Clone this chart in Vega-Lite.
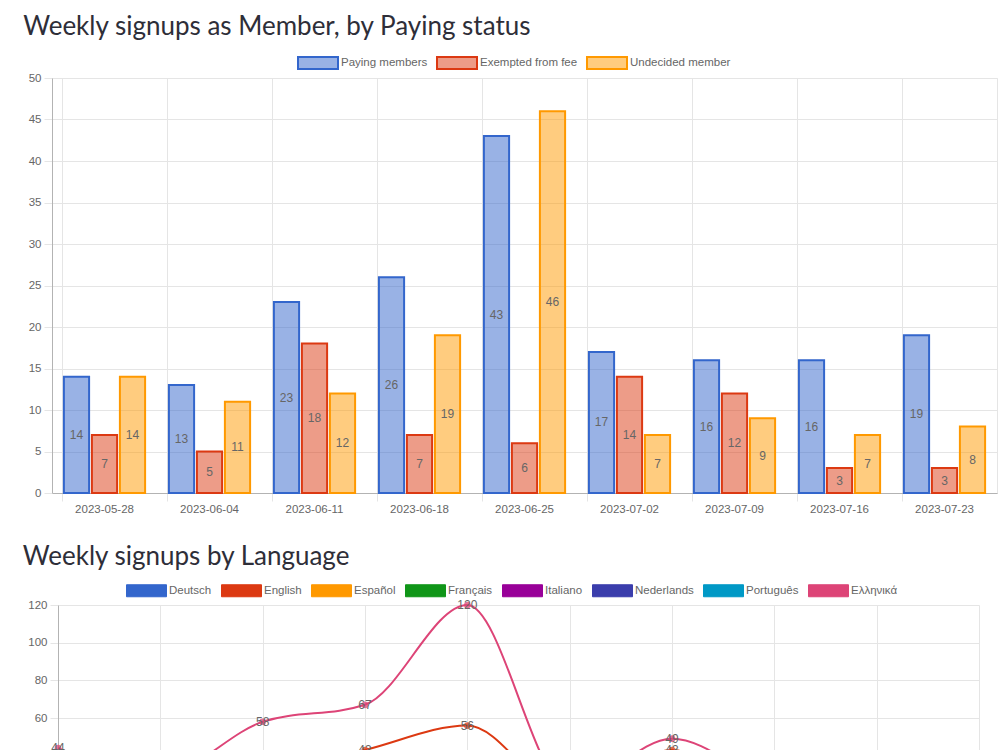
{
  "$schema": "https://vega.github.io/schema/vega-lite/v6.json",
  "padding": {"left": 22, "top": 13, "right": 0, "bottom": 0},
  "background": "white",
  "config": {
    "view": {"stroke": null},
    "axis": {"labelFont": "Liberation Sans", "labelFontSize": 11.5, "labelColor": "#666666", "gridColor": "#e5e5e5", "tickColor": "#e5e5e5", "domainColor": "#b3b3b3", "tickSize": 8, "titleFontSize": 0, "labelAngle": 0},
    "legend": {"labelFont": "Liberation Sans", "labelFontSize": 11.5, "labelColor": "#666666"},
    "title": {"font": "Lato", "fontSize": 26, "fontWeight": "normal", "color": "#2e2e38", "anchor": "start"}
  },
  "datasets": {
    "members": [
      {"week": "2023-05-28", "status": "Paying members", "count": 14},
      {"week": "2023-05-28", "status": "Exempted from fee", "count": 7},
      {"week": "2023-05-28", "status": "Undecided member", "count": 14},
      {"week": "2023-06-04", "status": "Paying members", "count": 13},
      {"week": "2023-06-04", "status": "Exempted from fee", "count": 5},
      {"week": "2023-06-04", "status": "Undecided member", "count": 11},
      {"week": "2023-06-11", "status": "Paying members", "count": 23},
      {"week": "2023-06-11", "status": "Exempted from fee", "count": 18},
      {"week": "2023-06-11", "status": "Undecided member", "count": 12},
      {"week": "2023-06-18", "status": "Paying members", "count": 26},
      {"week": "2023-06-18", "status": "Exempted from fee", "count": 7},
      {"week": "2023-06-18", "status": "Undecided member", "count": 19},
      {"week": "2023-06-25", "status": "Paying members", "count": 43},
      {"week": "2023-06-25", "status": "Exempted from fee", "count": 6},
      {"week": "2023-06-25", "status": "Undecided member", "count": 46},
      {"week": "2023-07-02", "status": "Paying members", "count": 17},
      {"week": "2023-07-02", "status": "Exempted from fee", "count": 14},
      {"week": "2023-07-02", "status": "Undecided member", "count": 7},
      {"week": "2023-07-09", "status": "Paying members", "count": 16},
      {"week": "2023-07-09", "status": "Exempted from fee", "count": 12},
      {"week": "2023-07-09", "status": "Undecided member", "count": 9},
      {"week": "2023-07-16", "status": "Paying members", "count": 16},
      {"week": "2023-07-16", "status": "Exempted from fee", "count": 3},
      {"week": "2023-07-16", "status": "Undecided member", "count": 7},
      {"week": "2023-07-23", "status": "Paying members", "count": 19},
      {"week": "2023-07-23", "status": "Exempted from fee", "count": 3},
      {"week": "2023-07-23", "status": "Undecided member", "count": 8}
    ],
    "languages": [
      {"week": "2023-05-28", "lang": "Deutsch", "n": 10}, {"week": "2023-06-04", "lang": "Deutsch", "n": 8}, {"week": "2023-06-11", "lang": "Deutsch", "n": 12}, {"week": "2023-06-18", "lang": "Deutsch", "n": 15}, {"week": "2023-06-25", "lang": "Deutsch", "n": 25}, {"week": "2023-07-02", "lang": "Deutsch", "n": 9}, {"week": "2023-07-09", "lang": "Deutsch", "n": 14}, {"week": "2023-07-16", "lang": "Deutsch", "n": 8}, {"week": "2023-07-23", "lang": "Deutsch", "n": 6}, {"week": "2023-07-30", "lang": "Deutsch", "n": 7},
      {"week": "2023-05-28", "lang": "English", "n": 20}, {"week": "2023-06-04", "lang": "English", "n": 15}, {"week": "2023-06-11", "lang": "English", "n": 30}, {"week": "2023-06-18", "lang": "English", "n": 43}, {"week": "2023-06-25", "lang": "English", "n": 56}, {"week": "2023-07-02", "lang": "English", "n": 18}, {"week": "2023-07-09", "lang": "English", "n": 43}, {"week": "2023-07-16", "lang": "English", "n": 14}, {"week": "2023-07-23", "lang": "English", "n": 10}, {"week": "2023-07-30", "lang": "English", "n": 12},
      {"week": "2023-05-28", "lang": "Español", "n": 8}, {"week": "2023-06-04", "lang": "Español", "n": 6}, {"week": "2023-06-11", "lang": "Español", "n": 10}, {"week": "2023-06-18", "lang": "Español", "n": 12}, {"week": "2023-06-25", "lang": "Español", "n": 20}, {"week": "2023-07-02", "lang": "Español", "n": 7}, {"week": "2023-07-09", "lang": "Español", "n": 11}, {"week": "2023-07-16", "lang": "Español", "n": 6}, {"week": "2023-07-23", "lang": "Español", "n": 5}, {"week": "2023-07-30", "lang": "Español", "n": 6},
      {"week": "2023-05-28", "lang": "Français", "n": 12}, {"week": "2023-06-04", "lang": "Français", "n": 9}, {"week": "2023-06-11", "lang": "Français", "n": 14}, {"week": "2023-06-18", "lang": "Français", "n": 18}, {"week": "2023-06-25", "lang": "Français", "n": 30}, {"week": "2023-07-02", "lang": "Français", "n": 10}, {"week": "2023-07-09", "lang": "Français", "n": 16}, {"week": "2023-07-16", "lang": "Français", "n": 9}, {"week": "2023-07-23", "lang": "Français", "n": 7}, {"week": "2023-07-30", "lang": "Français", "n": 8},
      {"week": "2023-05-28", "lang": "Italiano", "n": 5}, {"week": "2023-06-04", "lang": "Italiano", "n": 4}, {"week": "2023-06-11", "lang": "Italiano", "n": 6}, {"week": "2023-06-18", "lang": "Italiano", "n": 8}, {"week": "2023-06-25", "lang": "Italiano", "n": 12}, {"week": "2023-07-02", "lang": "Italiano", "n": 4}, {"week": "2023-07-09", "lang": "Italiano", "n": 7}, {"week": "2023-07-16", "lang": "Italiano", "n": 4}, {"week": "2023-07-23", "lang": "Italiano", "n": 3}, {"week": "2023-07-30", "lang": "Italiano", "n": 3},
      {"week": "2023-05-28", "lang": "Nederlands", "n": 3}, {"week": "2023-06-04", "lang": "Nederlands", "n": 2}, {"week": "2023-06-11", "lang": "Nederlands", "n": 4}, {"week": "2023-06-18", "lang": "Nederlands", "n": 5}, {"week": "2023-06-25", "lang": "Nederlands", "n": 8}, {"week": "2023-07-02", "lang": "Nederlands", "n": 3}, {"week": "2023-07-09", "lang": "Nederlands", "n": 4}, {"week": "2023-07-16", "lang": "Nederlands", "n": 2}, {"week": "2023-07-23", "lang": "Nederlands", "n": 2}, {"week": "2023-07-30", "lang": "Nederlands", "n": 2},
      {"week": "2023-05-28", "lang": "Português", "n": 4}, {"week": "2023-06-04", "lang": "Português", "n": 3}, {"week": "2023-06-11", "lang": "Português", "n": 5}, {"week": "2023-06-18", "lang": "Português", "n": 6}, {"week": "2023-06-25", "lang": "Português", "n": 10}, {"week": "2023-07-02", "lang": "Português", "n": 3}, {"week": "2023-07-09", "lang": "Português", "n": 6}, {"week": "2023-07-16", "lang": "Português", "n": 3}, {"week": "2023-07-23", "lang": "Português", "n": 2}, {"week": "2023-07-30", "lang": "Português", "n": 3},
      {"week": "2023-05-28", "lang": "Ελληνικά", "n": 44}, {"week": "2023-06-04", "lang": "Ελληνικά", "n": 30}, {"week": "2023-06-11", "lang": "Ελληνικά", "n": 58}, {"week": "2023-06-18", "lang": "Ελληνικά", "n": 67}, {"week": "2023-06-25", "lang": "Ελληνικά", "n": 120}, {"week": "2023-07-02", "lang": "Ελληνικά", "n": 22}, {"week": "2023-07-09", "lang": "Ελληνικά", "n": 49}, {"week": "2023-07-16", "lang": "Ελληνικά", "n": 25}, {"week": "2023-07-23", "lang": "Ελληνικά", "n": 18}, {"week": "2023-07-30", "lang": "Ελληνικά", "n": 20}
    ]
  },
  "vconcat": [
    {
      "title": {"text": "Weekly signups as Member, by Paying status", "offset": 2, "dx": -5},
      "width": 945,
      "height": 415,
      "view": {"stroke": "#e5e5e5"},
      "data": {"name": "members"},
      "layer": [
        {
          "mark": {"type": "bar", "strokeWidth": 2},
          "encoding": {
            "x": {"field": "week", "type": "ordinal", "scale": {"paddingInner": 0.2, "paddingOuter": 0.1}, "axis": {"grid": true, "bandPosition": 0, "labels": false, "ticks": true, "title": null, "orient": "bottom"}},
            "xOffset": {"field": "status", "type": "nominal", "scale": {"domain": ["Paying members", "Exempted from fee", "Undecided member"], "paddingInner": 0.1, "paddingOuter": 0.05}},
            "y": {"field": "count", "type": "quantitative", "scale": {"domain": [0, 50], "nice": false}, "axis": {"values": [0, 5, 10, 15, 20, 25, 30, 35, 40, 45, 50], "title": null, "labelPadding": 3}},
            "fill": {"field": "status", "type": "nominal", "scale": {"domain": ["Paying members", "Exempted from fee", "Undecided member"], "range": ["rgba(51,102,204,0.5)", "rgba(220,57,18,0.5)", "rgba(255,153,0,0.5)"]}, "legend": {"title": null, "orient": "none", "direction": "horizontal", "legendX": 245, "legendY": -36, "symbolType": "M-1,-0.3H1V0.3H-1Z", "symbolSize": 1600, "symbolStrokeWidth": 2, "labelOffset": 2, "columnPadding": 5}},
            "stroke": {"field": "status", "type": "nominal", "scale": {"domain": ["Paying members", "Exempted from fee", "Undecided member"], "range": ["#3366cc", "#dc3912", "#ff9900"]}, "legend": {"title": null, "orient": "none", "direction": "horizontal", "legendX": 245, "legendY": -36, "symbolType": "M-1,-0.3H1V0.3H-1Z", "symbolSize": 1600, "symbolStrokeWidth": 2, "labelOffset": 2, "columnPadding": 5}}
          }
        },
        {
          "mark": {"type": "text", "color": "#666666", "font": "Liberation Sans", "fontSize": 12, "baseline": "middle"},
          "encoding": {
            "x": {"field": "week", "type": "ordinal", "axis": {"grid": false, "ticks": false, "domain": false, "title": null, "orient": "bottom", "labelPadding": 10}},
            "xOffset": {"field": "status", "type": "nominal"},
            "y": {"field": "count", "type": "quantitative", "scale": {"domain": [0, 100], "nice": false}, "axis": null},
            "text": {"field": "count", "type": "quantitative"}
          }
        }
      ],
      "resolve": {"scale": {"y": "independent"}, "axis": {"x": "independent"}}
    },
    {
      "title": {"text": "Weekly signups by Language", "offset": 0, "dx": -5},
      "width": 927,
      "height": 226,
      "data": {"name": "languages"},
      "encoding": {
        "x": {"field": "week", "type": "ordinal", "scale": {"type": "point", "range": [6, 927], "padding": 0}, "axis": {"grid": true, "title": null, "domain": false}},
        "y": {"field": "n", "type": "quantitative", "scale": {"domain": [0, 120], "nice": false}, "axis": {"values": [0, 20, 40, 60, 80, 100, 120], "title": null, "offset": -6, "labelPadding": 3}}
      },
      "layer": [
        {
          "mark": {"type": "line", "interpolate": "monotone", "strokeWidth": 2},
          "encoding": {
            "stroke": {"field": "lang", "type": "nominal", "scale": {"domain": ["Deutsch", "English", "Español", "Français", "Italiano", "Nederlands", "Português", "Ελληνικά"], "range": ["#3366cc", "#dc3912", "#ff9900", "#109618", "#990099", "#3b3eac", "#0099c6", "#dd4477"]}, "legend": {"title": null, "orient": "none", "direction": "horizontal", "legendX": 74, "legendY": -35, "symbolType": "M-1,-0.3H1V0.3H-1Z", "symbolSize": 1600, "symbolOpacity": 1, "symbolStrokeWidth": 1, "labelOffset": 2, "columnPadding": 7}}
          }
        },
        {
          "mark": {"type": "circle", "size": 45, "opacity": 0.75},
          "encoding": {
            "fill": {"field": "lang", "type": "nominal", "scale": {"domain": ["Deutsch", "English", "Español", "Français", "Italiano", "Nederlands", "Português", "Ελληνικά"], "range": ["#3366cc", "#dc3912", "#ff9900", "#109618", "#990099", "#3b3eac", "#0099c6", "#dd4477"]}, "legend": {"title": null, "orient": "none", "direction": "horizontal", "legendX": 74, "legendY": -35, "symbolType": "M-1,-0.3H1V0.3H-1Z", "symbolSize": 1600, "symbolOpacity": 1, "symbolStrokeWidth": 1, "labelOffset": 2, "columnPadding": 7}}
          }
        },
        {
          "mark": {"type": "text", "color": "#666666", "font": "Liberation Sans", "fontSize": 12, "baseline": "middle"},
          "encoding": {
            "text": {"field": "n", "type": "quantitative"}
          }
        }
      ]
    }
  ],
  "spacing": 29,
  "resolve": {"scale": {"x": "independent", "y": "independent", "fill": "independent", "stroke": "independent"}, "legend": {"fill": "independent", "stroke": "independent"}}
}
